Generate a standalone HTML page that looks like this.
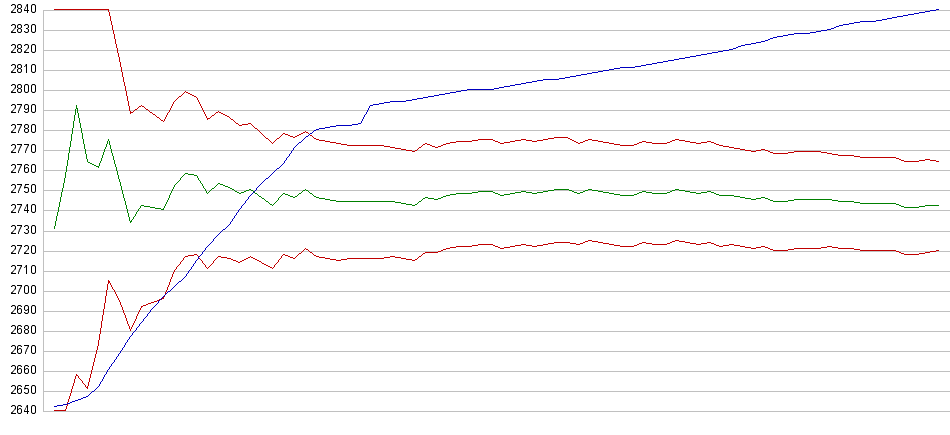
<!DOCTYPE html>
<html><head><meta charset="utf-8"><title>chart</title>
<style>
html,body{margin:0;padding:0;background:#fff;}
body{width:950px;height:435px;overflow:hidden;font-family:"Liberation Sans",sans-serif;}
svg{display:block;}
text{font-family:"Liberation Sans",sans-serif;font-size:12px;fill:transparent;}
</style></head><body>
<svg width="950" height="435" viewBox="0 0 950 435" shape-rendering="crispEdges">
<path fill="#c0c0c0" d="M43 10h907v1h-907zM43 30h907v1h-907zM43 50h907v1h-907zM43 70h907v1h-907zM43 90h907v1h-907zM43 110h907v1h-907zM43 130h907v1h-907zM43 150h907v1h-907zM43 170h907v1h-907zM43 190h907v1h-907zM43 210h907v1h-907zM43 231h907v1h-907zM43 251h907v1h-907zM43 271h907v1h-907zM43 291h907v1h-907zM43 311h907v1h-907zM43 331h907v1h-907zM43 351h907v1h-907zM43 371h907v1h-907zM43 391h907v1h-907zM43 411h907v1h-907z"/>
<path fill="#c0c0c0" d="M43 10h1v401h-1z"/>
<g><text x="11" y="13">2840</text><text x="11" y="33">2830</text><text x="11" y="53">2820</text><text x="11" y="73">2810</text><text x="11" y="93">2800</text><text x="11" y="113">2790</text><text x="11" y="133">2780</text><text x="11" y="153">2770</text><text x="11" y="173">2760</text><text x="11" y="193">2750</text><text x="11" y="213">2740</text><text x="11" y="234">2730</text><text x="11" y="254">2720</text><text x="11" y="274">2710</text><text x="11" y="294">2700</text><text x="11" y="314">2690</text><text x="11" y="334">2680</text><text x="11" y="354">2670</text><text x="11" y="374">2660</text><text x="11" y="394">2650</text><text x="11" y="414">2640</text></g>
<defs><g id="d0"><path fill="#e3e3e3" d="M0 0h1v1h-1zM0 8h1v1h-1zM4 0h1v1h-1zM4 8h1v1h-1z"/><path fill="#aaaaaa" d="M1 1h1v1h-1zM1 7h1v1h-1zM3 1h1v1h-1zM3 7h1v1h-1z"/><path fill="#1c1c1c" d="M0 1h1v1h-1zM0 7h1v1h-1zM1 0h1v1h-1zM1 8h1v1h-1zM3 0h1v1h-1zM3 8h1v1h-1zM4 1h1v1h-1zM4 7h1v1h-1z"/><path fill="#000000" d="M0 2h1v5h-1zM2 0h1v1h-1zM2 8h1v1h-1zM4 2h1v5h-1z"/></g><g id="d1"><path fill="#c6c6c6" d="M1 2h1v1h-1z"/><path fill="#aaaaaa" d="M1 0h1v1h-1z"/><path fill="#393939" d="M0 2h1v1h-1zM1 1h1v1h-1z"/><path fill="#000000" d="M2 0h1v9h-1z"/></g><g id="d2"><path fill="#e3e3e3" d="M0 0h1v1h-1zM4 0h1v1h-1z"/><path fill="#c6c6c6" d="M3 3h1v1h-1z"/><path fill="#aaaaaa" d="M1 1h1v1h-1zM3 1h1v1h-1zM3 5h1v1h-1z"/><path fill="#8e8e8e" d="M4 4h1v1h-1z"/><path fill="#717171" d="M1 6h2v1h-2zM2 5h1v1h-1z"/><path fill="#555555" d="M3 4h1v1h-1z"/><path fill="#393939" d="M0 7h2v1h-2z"/><path fill="#1c1c1c" d="M1 0h1v1h-1zM3 0h1v1h-1zM4 1h1v1h-1z"/><path fill="#000000" d="M0 1h1v1h-1zM0 8h5v1h-5zM2 0h1v1h-1zM4 2h1v1h-1zM4 3h1v1h-1z"/></g><g id="d3"><path fill="#e3e3e3" d="M0 0h1v1h-1zM0 8h1v1h-1zM4 0h1v1h-1zM4 8h1v1h-1z"/><path fill="#aaaaaa" d="M1 1h1v1h-1zM1 7h1v1h-1zM3 1h1v1h-1zM3 3h1v1h-1zM3 5h1v1h-1zM3 7h1v1h-1z"/><path fill="#1c1c1c" d="M1 0h1v1h-1zM1 8h1v1h-1zM3 0h1v1h-1zM3 4h1v1h-1zM3 8h1v1h-1zM4 1h1v1h-1zM4 3h1v1h-1zM4 5h1v1h-1zM4 7h1v1h-1z"/><path fill="#000000" d="M0 1h1v1h-1zM0 7h1v1h-1zM2 0h1v1h-1zM2 4h1v1h-1zM2 8h1v1h-1zM4 2h1v1h-1zM4 6h1v1h-1z"/></g><g id="d4"><path fill="#c6c6c6" d="M0 4h1v1h-1zM1 2h1v1h-1z"/><path fill="#aaaaaa" d="M2 0h1v1h-1z"/><path fill="#8e8e8e" d="M2 2h1v1h-1z"/><path fill="#717171" d="M1 4h1v1h-1z"/><path fill="#555555" d="M1 3h1v1h-1z"/><path fill="#393939" d="M0 5h1v1h-1zM2 1h1v1h-1z"/><path fill="#000000" d="M0 6h3v1h-3zM3 0h1v9h-1zM4 6h1v1h-1z"/></g><g id="d5"><path fill="#e3e3e3" d="M0 8h1v1h-1zM1 4h1v1h-1zM4 8h1v1h-1z"/><path fill="#c6c6c6" d="M0 1h1v1h-1zM4 3h1v1h-1z"/><path fill="#aaaaaa" d="M1 2h1v1h-1zM1 7h1v1h-1zM3 4h1v1h-1zM3 7h1v1h-1z"/><path fill="#8e8e8e" d="M0 4h1v1h-1z"/><path fill="#555555" d="M0 2h1v1h-1z"/><path fill="#393939" d="M1 1h1v1h-1z"/><path fill="#1c1c1c" d="M1 8h1v1h-1zM3 3h1v1h-1zM3 8h1v1h-1zM4 4h1v1h-1zM4 7h1v1h-1z"/><path fill="#000000" d="M0 3h3v1h-3zM0 7h1v1h-1zM1 0h4v1h-4zM2 8h1v1h-1zM4 5h1v1h-1zM4 6h1v1h-1z"/></g><g id="d6"><path fill="#e3e3e3" d="M0 0h1v1h-1zM0 8h1v1h-1zM2 4h1v1h-1zM4 0h1v1h-1zM4 3h1v1h-1zM4 8h1v1h-1z"/><path fill="#c6c6c6" d="M1 3h1v1h-1zM3 4h1v1h-1z"/><path fill="#aaaaaa" d="M1 1h1v1h-1zM1 7h1v1h-1zM3 1h1v1h-1zM3 7h1v1h-1z"/><path fill="#393939" d="M1 4h1v1h-1z"/><path fill="#1c1c1c" d="M0 1h1v1h-1zM0 7h1v1h-1zM1 0h1v1h-1zM1 8h1v1h-1zM2 3h2v1h-2zM3 0h1v1h-1zM3 8h1v1h-1zM4 4h1v1h-1zM4 7h1v1h-1z"/><path fill="#000000" d="M0 2h1v5h-1zM2 0h1v1h-1zM2 8h1v1h-1zM4 1h1v1h-1zM4 5h1v1h-1zM4 6h1v1h-1z"/></g><g id="d7"><path fill="#c6c6c6" d="M1 5h1v1h-1zM3 4h1v1h-1zM4 2h1v1h-1z"/><path fill="#aaaaaa" d="M2 3h1v1h-1zM3 1h1v1h-1z"/><path fill="#717171" d="M1 6h2v1h-2z"/><path fill="#393939" d="M2 4h1v1h-1zM2 5h1v1h-1zM3 2h1v1h-1zM3 3h1v1h-1z"/><path fill="#1c1c1c" d="M1 7h1v1h-1zM1 8h1v1h-1zM4 1h1v1h-1z"/><path fill="#000000" d="M0 0h5v1h-5z"/></g><g id="d8"><path fill="#e3e3e3" d="M0 0h1v1h-1zM0 8h1v1h-1zM4 0h1v1h-1zM4 8h1v1h-1z"/><path fill="#aaaaaa" d="M1 1h1v1h-1zM1 3h1v1h-1zM1 5h1v1h-1zM1 7h1v1h-1zM3 1h1v1h-1zM3 3h1v1h-1zM3 5h1v1h-1zM3 7h1v1h-1z"/><path fill="#1c1c1c" d="M0 1h1v1h-1zM0 3h1v1h-1zM0 5h1v1h-1zM0 7h1v1h-1zM1 0h1v1h-1zM1 4h1v1h-1zM1 8h1v1h-1zM3 0h1v1h-1zM3 4h1v1h-1zM3 8h1v1h-1zM4 1h1v1h-1zM4 3h1v1h-1zM4 5h1v1h-1zM4 7h1v1h-1z"/><path fill="#000000" d="M0 2h1v1h-1zM0 6h1v1h-1zM2 0h1v1h-1zM2 4h1v1h-1zM2 8h1v1h-1zM4 2h1v1h-1zM4 6h1v1h-1z"/></g><g id="d9"><path fill="#e3e3e3" d="M0 0h1v1h-1zM0 5h1v1h-1zM0 8h1v1h-1zM2 4h1v1h-1zM4 0h1v1h-1zM4 8h1v1h-1z"/><path fill="#c6c6c6" d="M1 4h1v1h-1zM3 5h1v1h-1z"/><path fill="#aaaaaa" d="M1 1h1v1h-1zM1 7h1v1h-1zM3 1h1v1h-1zM3 7h1v1h-1z"/><path fill="#393939" d="M3 4h1v1h-1z"/><path fill="#1c1c1c" d="M0 1h1v1h-1zM0 4h1v1h-1zM1 0h1v1h-1zM1 5h2v1h-2zM1 8h1v1h-1zM3 0h1v1h-1zM3 8h1v1h-1zM4 1h1v1h-1zM4 7h1v1h-1z"/><path fill="#000000" d="M0 2h1v1h-1zM0 3h1v1h-1zM0 7h1v1h-1zM2 0h1v1h-1zM2 8h1v1h-1zM4 2h1v5h-1z"/></g></defs>
<g><use href="#d2" x="11" y="4"/><use href="#d8" x="17" y="4"/><use href="#d4" x="24" y="4"/><use href="#d0" x="31" y="4"/><use href="#d2" x="11" y="24"/><use href="#d8" x="17" y="24"/><use href="#d3" x="24" y="24"/><use href="#d0" x="31" y="24"/><use href="#d2" x="11" y="44"/><use href="#d8" x="17" y="44"/><use href="#d2" x="24" y="44"/><use href="#d0" x="31" y="44"/><use href="#d2" x="11" y="64"/><use href="#d8" x="17" y="64"/><use href="#d1" x="24" y="64"/><use href="#d0" x="31" y="64"/><use href="#d2" x="11" y="84"/><use href="#d8" x="17" y="84"/><use href="#d0" x="24" y="84"/><use href="#d0" x="31" y="84"/><use href="#d2" x="11" y="104"/><use href="#d7" x="17" y="104"/><use href="#d9" x="24" y="104"/><use href="#d0" x="31" y="104"/><use href="#d2" x="11" y="124"/><use href="#d7" x="17" y="124"/><use href="#d8" x="24" y="124"/><use href="#d0" x="31" y="124"/><use href="#d2" x="11" y="144"/><use href="#d7" x="17" y="144"/><use href="#d7" x="24" y="144"/><use href="#d0" x="31" y="144"/><use href="#d2" x="11" y="164"/><use href="#d7" x="17" y="164"/><use href="#d6" x="24" y="164"/><use href="#d0" x="31" y="164"/><use href="#d2" x="11" y="184"/><use href="#d7" x="17" y="184"/><use href="#d5" x="24" y="184"/><use href="#d0" x="31" y="184"/><use href="#d2" x="11" y="204"/><use href="#d7" x="17" y="204"/><use href="#d4" x="24" y="204"/><use href="#d0" x="31" y="204"/><use href="#d2" x="11" y="225"/><use href="#d7" x="17" y="225"/><use href="#d3" x="24" y="225"/><use href="#d0" x="31" y="225"/><use href="#d2" x="11" y="245"/><use href="#d7" x="17" y="245"/><use href="#d2" x="24" y="245"/><use href="#d0" x="31" y="245"/><use href="#d2" x="11" y="265"/><use href="#d7" x="17" y="265"/><use href="#d1" x="24" y="265"/><use href="#d0" x="31" y="265"/><use href="#d2" x="11" y="285"/><use href="#d7" x="17" y="285"/><use href="#d0" x="24" y="285"/><use href="#d0" x="31" y="285"/><use href="#d2" x="11" y="305"/><use href="#d6" x="17" y="305"/><use href="#d9" x="24" y="305"/><use href="#d0" x="31" y="305"/><use href="#d2" x="11" y="325"/><use href="#d6" x="17" y="325"/><use href="#d8" x="24" y="325"/><use href="#d0" x="31" y="325"/><use href="#d2" x="11" y="345"/><use href="#d6" x="17" y="345"/><use href="#d7" x="24" y="345"/><use href="#d0" x="31" y="345"/><use href="#d2" x="11" y="365"/><use href="#d6" x="17" y="365"/><use href="#d6" x="24" y="365"/><use href="#d0" x="31" y="365"/><use href="#d2" x="11" y="385"/><use href="#d6" x="17" y="385"/><use href="#d5" x="24" y="385"/><use href="#d0" x="31" y="385"/><use href="#d2" x="11" y="405"/><use href="#d6" x="17" y="405"/><use href="#d4" x="24" y="405"/><use href="#d0" x="31" y="405"/></g>
<path fill="#c00000" d="M54 9h54v1h-54zM108 9h1v3h-1zM109 12h1v4h-1zM110 16h1v5h-1zM111 21h1v4h-1zM112 25h1v5h-1zM113 30h1v4h-1zM114 34h1v5h-1zM115 39h1v5h-1zM116 44h1v4h-1zM117 48h1v5h-1zM118 53h1v4h-1zM119 57h1v5h-1zM120 62h1v5h-1zM121 67h1v5h-1zM122 72h1v5h-1zM123 77h1v5h-1zM124 82h1v4h-1zM125 86h1v5h-1zM126 91h1v5h-1zM127 96h1v5h-1zM128 101h1v5h-1zM129 106h1v5h-1zM130 111h1v3h-1zM131 112h2v1h-2zM133 111h1v1h-1zM134 110h1v1h-1zM135 109h2v1h-2zM137 108h1v1h-1zM138 107h1v1h-1zM139 106h2v1h-2zM141 105h1v1h-1zM142 106h2v1h-2zM144 107h1v1h-1zM145 108h1v1h-1zM146 109h2v1h-2zM148 110h1v1h-1zM149 111h1v1h-1zM150 112h2v1h-2zM152 113h1v1h-1zM153 114h2v1h-2zM155 115h1v1h-1zM156 116h1v1h-1zM157 117h2v1h-2zM159 118h1v1h-1zM160 119h1v1h-1zM161 120h2v1h-2zM163 121h1v1h-1zM164 119h1v1h-1zM164 120h1v1h-1zM165 117h1v1h-1zM165 118h1v1h-1zM166 115h1v1h-1zM166 116h1v1h-1zM167 113h1v1h-1zM167 114h1v1h-1zM168 112h1v1h-1zM169 110h1v1h-1zM169 111h1v1h-1zM170 108h1v1h-1zM170 109h1v1h-1zM171 106h1v1h-1zM171 107h1v1h-1zM172 104h1v1h-1zM172 105h1v1h-1zM173 102h1v1h-1zM173 103h1v1h-1zM174 101h1v1h-1zM175 100h1v1h-1zM176 99h1v1h-1zM177 98h1v1h-1zM178 97h1v1h-1zM179 96h2v1h-2zM181 95h1v1h-1zM182 94h1v1h-1zM183 93h1v1h-1zM184 92h1v1h-1zM185 91h1v1h-1zM186 92h2v1h-2zM188 93h2v1h-2zM190 94h2v1h-2zM192 95h2v1h-2zM194 96h2v1h-2zM196 97h1v1h-1zM197 98h1v1h-1zM197 99h1v1h-1zM198 100h1v1h-1zM198 101h1v1h-1zM199 102h1v1h-1zM199 103h1v1h-1zM200 104h1v1h-1zM200 105h1v1h-1zM201 106h1v1h-1zM201 107h1v1h-1zM202 108h1v1h-1zM202 109h1v1h-1zM203 110h1v1h-1zM203 111h1v1h-1zM204 112h1v1h-1zM204 113h1v1h-1zM205 114h1v1h-1zM205 115h1v1h-1zM206 116h1v1h-1zM206 117h1v1h-1zM207 118h3v1h-3zM207 119h1v1h-1zM210 117h1v1h-1zM211 116h1v1h-1zM212 115h2v1h-2zM214 114h1v1h-1zM215 113h1v1h-1zM216 112h2v1h-2zM218 111h1v1h-1zM219 112h2v1h-2zM221 113h2v1h-2zM223 114h2v1h-2zM225 115h2v1h-2zM227 116h2v1h-2zM229 117h1v1h-1zM230 118h1v1h-1zM231 119h2v1h-2zM233 120h1v1h-1zM234 121h1v1h-1zM235 122h1v1h-1zM236 123h2v1h-2zM238 124h1v1h-1zM239 125h3v1h-3zM242 124h6v1h-6zM248 123h3v1h-3zM251 124h1v1h-1zM252 125h1v1h-1zM253 126h1v1h-1zM254 127h1v1h-1zM255 128h2v1h-2zM257 129h1v1h-1zM258 130h1v1h-1zM259 131h1v1h-1zM260 132h1v1h-1zM261 133h1v1h-1zM262 134h1v1h-1zM263 135h1v1h-1zM264 136h1v1h-1zM265 137h1v1h-1zM266 138h2v1h-2zM268 139h1v1h-1zM269 140h1v1h-1zM270 141h1v1h-1zM271 142h1v1h-1zM272 143h1v1h-1zM273 142h1v1h-1zM274 141h1v1h-1zM275 140h1v1h-1zM276 139h1v1h-1zM277 138h2v1h-2zM279 137h1v1h-1zM280 136h1v1h-1zM281 135h1v1h-1zM282 134h1v1h-1zM283 133h2v1h-2zM285 134h3v1h-3zM288 135h2v1h-2zM290 136h3v1h-3zM293 137h2v1h-2zM295 136h2v1h-2zM297 135h2v1h-2zM299 134h2v1h-2zM301 133h2v1h-2zM303 132h2v1h-2zM305 131h1v1h-1zM306 132h2v1h-2zM308 133h1v1h-1zM309 134h1v1h-1zM310 135h2v1h-2zM312 136h1v1h-1zM313 137h1v1h-1zM314 138h2v1h-2zM316 139h3v1h-3zM319 140h6v1h-6zM325 141h5v1h-5zM330 142h6v1h-6zM336 143h5v1h-5zM341 144h6v1h-6zM347 145h37v1h-37zM384 146h6v1h-6zM390 147h5v1h-5zM395 148h6v1h-6zM401 149h5v1h-5zM406 150h6v1h-6zM412 151h3v1h-3zM415 150h2v1h-2zM417 149h1v1h-1zM418 148h1v1h-1zM419 147h2v1h-2zM421 146h1v1h-1zM422 145h1v1h-1zM423 144h2v1h-2zM425 143h2v1h-2zM427 144h3v1h-3zM430 145h2v1h-2zM432 146h3v1h-3zM435 147h3v1h-3zM438 146h3v1h-3zM441 145h2v1h-2zM443 144h3v1h-3zM446 143h4v1h-4zM450 142h6v1h-6zM456 141h16v1h-16zM472 140h6v1h-6zM478 139h15v1h-15zM493 140h2v1h-2zM495 141h3v1h-3zM498 142h2v1h-2zM500 143h4v1h-4zM504 142h6v1h-6zM510 141h5v1h-5zM515 140h6v1h-6zM521 139h5v1h-5zM526 140h6v1h-6zM532 141h5v1h-5zM537 140h6v1h-6zM543 139h5v1h-5zM548 138h6v1h-6zM554 137h14v1h-14zM568 138h2v1h-2zM570 139h2v1h-2zM572 140h2v1h-2zM574 141h2v1h-2zM576 142h2v1h-2zM578 143h2v1h-2zM580 142h3v1h-3zM583 141h2v1h-2zM585 140h3v1h-3zM588 139h4v1h-4zM592 140h6v1h-6zM598 141h5v1h-5zM603 142h6v1h-6zM609 143h5v1h-5zM614 144h6v1h-6zM620 145h14v1h-14zM634 144h3v1h-3zM637 143h2v1h-2zM639 142h3v1h-3zM642 141h4v1h-4zM646 142h6v1h-6zM652 143h15v1h-15zM667 142h3v1h-3zM670 141h2v1h-2zM672 140h3v1h-3zM675 139h4v1h-4zM679 140h6v1h-6zM685 141h5v1h-5zM690 142h6v1h-6zM696 143h5v1h-5zM701 142h6v1h-6zM707 141h4v1h-4zM711 142h3v1h-3zM714 143h2v1h-2zM716 144h3v1h-3zM719 145h4v1h-4zM723 146h6v1h-6zM729 147h5v1h-5zM734 148h6v1h-6zM740 149h5v1h-5zM745 150h6v1h-6zM751 151h5v1h-5zM756 150h5v1h-5zM761 149h4v1h-4zM765 150h3v1h-3zM768 151h2v1h-2zM770 152h3v1h-3zM773 153h15v1h-15zM788 152h6v1h-6zM794 151h27v1h-27zM821 152h6v1h-6zM827 153h5v1h-5zM832 154h6v1h-6zM838 155h16v1h-16zM854 156h6v1h-6zM860 157h36v1h-36zM896 158h3v1h-3zM899 159h2v1h-2zM901 160h3v1h-3zM904 161h15v1h-15zM919 160h6v1h-6zM925 159h5v1h-5zM930 160h6v1h-6zM936 161h3v1h-3z"/>
<path fill="#c00000" d="M54 410h12v1h-12zM65 409h1v1h-1zM66 406h1v3h-1zM67 402h1v4h-1zM68 399h1v3h-1zM69 396h1v3h-1zM70 393h1v3h-1zM71 389h1v4h-1zM72 386h1v3h-1zM73 383h1v3h-1zM74 379h1v4h-1zM75 376h1v3h-1zM76 374h1v1h-1zM76 375h2v1h-2zM78 376h1v1h-1zM78 377h1v1h-1zM79 378h1v1h-1zM80 379h1v1h-1zM81 380h1v1h-1zM82 381h1v1h-1zM82 382h1v1h-1zM83 383h1v1h-1zM84 384h1v1h-1zM85 385h1v1h-1zM85 386h1v1h-1zM86 387h1v1h-1zM87 386h1v3h-1zM88 382h1v4h-1zM89 378h1v4h-1zM90 374h1v4h-1zM91 370h1v4h-1zM92 366h1v4h-1zM93 362h1v4h-1zM94 358h1v4h-1zM95 354h1v4h-1zM96 350h1v4h-1zM97 346h1v4h-1zM98 340h1v6h-1zM99 334h1v6h-1zM100 328h1v6h-1zM101 321h1v7h-1zM102 315h1v6h-1zM103 309h1v6h-1zM104 303h1v6h-1zM105 296h1v7h-1zM106 290h1v6h-1zM107 284h1v6h-1zM108 280h1v4h-1zM109 281h1v1h-1zM109 282h1v1h-1zM110 283h1v1h-1zM110 284h1v1h-1zM111 285h1v1h-1zM111 286h1v1h-1zM112 287h1v1h-1zM112 288h1v1h-1zM113 289h1v1h-1zM114 290h1v1h-1zM114 291h1v1h-1zM115 292h1v1h-1zM115 293h1v1h-1zM116 294h1v1h-1zM116 295h1v1h-1zM117 296h1v1h-1zM117 297h1v1h-1zM118 298h1v1h-1zM118 299h1v1h-1zM119 300h1v1h-1zM119 301h1v1h-1zM120 302h1v3h-1zM121 305h1v1h-1zM121 306h1v1h-1zM122 307h1v3h-1zM123 310h1v3h-1zM124 313h1v1h-1zM124 314h1v1h-1zM125 315h1v3h-1zM126 318h1v3h-1zM127 321h1v3h-1zM128 324h1v1h-1zM128 325h1v1h-1zM129 326h1v3h-1zM130 329h1v1h-1zM130 330h1v1h-1zM131 327h1v1h-1zM131 328h1v1h-1zM132 325h1v1h-1zM132 326h1v1h-1zM133 323h1v1h-1zM133 324h1v1h-1zM134 321h1v1h-1zM134 322h1v1h-1zM135 319h1v1h-1zM135 320h1v1h-1zM136 316h1v3h-1zM137 314h1v1h-1zM137 315h1v1h-1zM138 312h1v1h-1zM138 313h1v1h-1zM139 310h1v1h-1zM139 311h1v1h-1zM140 308h1v1h-1zM140 309h1v1h-1zM141 306h2v1h-2zM141 307h1v1h-1zM143 305h3v1h-3zM146 304h2v1h-2zM148 303h3v1h-3zM151 302h3v1h-3zM154 301h3v1h-3zM157 300h2v1h-2zM159 299h3v1h-3zM162 298h2v1h-2zM163 297h1v1h-1zM164 295h1v1h-1zM164 296h1v1h-1zM165 292h1v3h-1zM166 290h1v1h-1zM166 291h1v1h-1zM167 287h1v3h-1zM168 285h1v1h-1zM168 286h1v1h-1zM169 282h1v3h-1zM170 279h1v3h-1zM171 277h1v1h-1zM171 278h1v1h-1zM172 274h1v3h-1zM173 272h1v1h-1zM173 273h1v1h-1zM174 270h1v1h-1zM174 271h1v1h-1zM175 269h1v1h-1zM176 267h1v1h-1zM176 268h1v1h-1zM177 266h1v1h-1zM178 265h1v1h-1zM179 264h1v1h-1zM180 262h1v1h-1zM180 263h1v1h-1zM181 261h1v1h-1zM182 260h1v1h-1zM183 258h1v1h-1zM183 259h1v1h-1zM184 257h1v1h-1zM185 256h3v1h-3zM188 255h6v1h-6zM194 254h3v1h-3zM197 255h1v1h-1zM198 256h1v1h-1zM198 257h1v1h-1zM199 258h1v1h-1zM200 259h1v1h-1zM201 260h1v1h-1zM202 261h1v1h-1zM202 262h1v1h-1zM203 263h1v1h-1zM204 264h1v1h-1zM205 265h1v1h-1zM205 266h1v1h-1zM206 267h1v1h-1zM207 268h1v1h-1zM208 267h1v1h-1zM209 266h1v1h-1zM210 265h1v1h-1zM211 264h1v1h-1zM212 263h1v1h-1zM213 261h1v1h-1zM213 262h1v1h-1zM214 260h1v1h-1zM215 259h1v1h-1zM216 258h1v1h-1zM217 257h1v1h-1zM218 256h3v1h-3zM221 257h6v1h-6zM227 258h4v1h-4zM231 259h2v1h-2zM233 260h3v1h-3zM236 261h2v1h-2zM238 262h2v1h-2zM240 261h2v1h-2zM242 260h2v1h-2zM244 259h2v1h-2zM246 258h2v1h-2zM248 257h2v1h-2zM250 256h1v1h-1zM251 257h2v1h-2zM253 258h2v1h-2zM255 259h2v1h-2zM257 260h2v1h-2zM259 261h2v1h-2zM261 262h1v1h-1zM262 263h2v1h-2zM264 264h2v1h-2zM266 265h2v1h-2zM268 266h2v1h-2zM270 267h2v1h-2zM272 268h1v1h-1zM273 267h1v1h-1zM274 265h1v1h-1zM274 266h1v1h-1zM275 264h1v1h-1zM276 263h1v1h-1zM277 262h1v1h-1zM278 260h1v1h-1zM278 261h1v1h-1zM279 259h1v1h-1zM280 258h1v1h-1zM281 256h1v1h-1zM281 257h1v1h-1zM282 255h1v1h-1zM283 254h2v1h-2zM285 255h3v1h-3zM288 256h2v1h-2zM290 257h3v1h-3zM293 258h2v1h-2zM295 257h1v1h-1zM296 256h1v1h-1zM297 255h1v1h-1zM298 254h1v1h-1zM299 253h2v1h-2zM301 252h1v1h-1zM302 251h1v1h-1zM303 250h1v1h-1zM304 249h1v1h-1zM305 248h1v1h-1zM306 249h2v1h-2zM308 250h1v1h-1zM309 251h1v1h-1zM310 252h2v1h-2zM312 253h1v1h-1zM313 254h1v1h-1zM314 255h2v1h-2zM316 256h3v1h-3zM319 257h6v1h-6zM325 258h5v1h-5zM330 259h6v1h-6zM336 260h5v1h-5zM341 259h6v1h-6zM347 258h37v1h-37zM384 257h6v1h-6zM390 256h5v1h-5zM395 257h6v1h-6zM401 258h5v1h-5zM406 259h6v1h-6zM412 260h3v1h-3zM415 259h2v1h-2zM417 258h1v1h-1zM418 257h1v1h-1zM419 256h2v1h-2zM421 255h1v1h-1zM422 254h1v1h-1zM423 253h2v1h-2zM425 252h13v1h-13zM438 251h3v1h-3zM441 250h2v1h-2zM443 249h3v1h-3zM446 248h4v1h-4zM450 247h6v1h-6zM456 246h16v1h-16zM472 245h6v1h-6zM478 244h15v1h-15zM493 245h2v1h-2zM495 246h3v1h-3zM498 247h2v1h-2zM500 248h4v1h-4zM504 247h6v1h-6zM510 246h5v1h-5zM515 245h6v1h-6zM521 244h5v1h-5zM526 245h6v1h-6zM532 246h5v1h-5zM537 245h6v1h-6zM543 244h5v1h-5zM548 243h6v1h-6zM554 242h16v1h-16zM570 243h6v1h-6zM576 244h4v1h-4zM580 243h3v1h-3zM583 242h2v1h-2zM585 241h3v1h-3zM588 240h4v1h-4zM592 241h6v1h-6zM598 242h5v1h-5zM603 243h6v1h-6zM609 244h5v1h-5zM614 245h6v1h-6zM620 246h14v1h-14zM634 245h3v1h-3zM637 244h2v1h-2zM639 243h3v1h-3zM642 242h4v1h-4zM646 243h6v1h-6zM652 244h15v1h-15zM667 243h3v1h-3zM670 242h2v1h-2zM672 241h3v1h-3zM675 240h4v1h-4zM679 241h6v1h-6zM685 242h5v1h-5zM690 243h6v1h-6zM696 244h5v1h-5zM701 243h6v1h-6zM707 242h4v1h-4zM711 243h3v1h-3zM714 244h2v1h-2zM716 245h3v1h-3zM719 246h4v1h-4zM723 245h6v1h-6zM729 244h5v1h-5zM734 245h6v1h-6zM740 246h5v1h-5zM745 247h6v1h-6zM751 248h5v1h-5zM756 247h5v1h-5zM761 246h4v1h-4zM765 247h3v1h-3zM768 248h2v1h-2zM770 249h3v1h-3zM773 250h15v1h-15zM788 249h6v1h-6zM794 248h27v1h-27zM821 247h6v1h-6zM827 246h5v1h-5zM832 247h6v1h-6zM838 248h16v1h-16zM854 249h6v1h-6zM860 250h36v1h-36zM896 251h3v1h-3zM899 252h2v1h-2zM901 253h3v1h-3zM904 254h15v1h-15zM919 253h6v1h-6zM925 252h5v1h-5zM930 251h6v1h-6zM936 250h3v1h-3z"/>
<path fill="#008000" d="M54 226h1v3h-1zM55 221h1v5h-1zM56 216h1v5h-1zM57 212h1v4h-1zM58 207h1v5h-1zM59 202h1v5h-1zM60 197h1v5h-1zM61 192h1v5h-1zM62 188h1v4h-1zM63 183h1v5h-1zM64 178h1v5h-1zM65 172h1v6h-1zM66 166h1v6h-1zM67 160h1v6h-1zM68 153h1v7h-1zM69 147h1v6h-1zM70 141h1v6h-1zM71 134h1v7h-1zM72 128h1v6h-1zM73 121h1v7h-1zM74 115h1v6h-1zM75 109h1v6h-1zM76 105h1v4h-1zM77 108h1v5h-1zM78 113h1v5h-1zM79 118h1v5h-1zM80 123h1v5h-1zM81 128h1v5h-1zM82 133h1v6h-1zM83 139h1v5h-1zM84 144h1v5h-1zM85 149h1v5h-1zM86 154h1v5h-1zM87 159h1v3h-1zM88 162h2v1h-2zM90 163h2v1h-2zM92 164h2v1h-2zM94 165h2v1h-2zM96 166h3v1h-3zM98 167h1v1h-1zM99 163h1v3h-1zM100 161h1v1h-1zM100 162h1v1h-1zM101 158h1v3h-1zM102 155h1v3h-1zM103 152h1v3h-1zM104 149h1v3h-1zM105 147h1v1h-1zM105 148h1v1h-1zM106 144h1v3h-1zM107 141h1v3h-1zM108 139h1v1h-1zM108 140h1v1h-1zM109 141h1v4h-1zM110 145h1v4h-1zM111 149h1v4h-1zM112 153h1v3h-1zM113 156h1v4h-1zM114 160h1v4h-1zM115 164h1v3h-1zM116 167h1v4h-1zM117 171h1v4h-1zM118 175h1v4h-1zM119 179h1v3h-1zM120 182h1v4h-1zM121 186h1v4h-1zM122 190h1v4h-1zM123 194h1v4h-1zM124 198h1v3h-1zM125 201h1v4h-1zM126 205h1v4h-1zM127 209h1v4h-1zM128 213h1v4h-1zM129 217h1v4h-1zM130 221h2v1h-2zM130 222h1v1h-1zM131 220h1v1h-1zM132 219h1v1h-1zM133 217h1v1h-1zM133 218h1v1h-1zM134 216h1v1h-1zM135 214h1v1h-1zM135 215h1v1h-1zM136 212h1v1h-1zM136 213h1v1h-1zM137 211h1v1h-1zM138 209h1v1h-1zM138 210h1v1h-1zM139 208h1v1h-1zM140 206h1v1h-1zM140 207h1v1h-1zM141 205h3v1h-3zM144 206h6v1h-6zM150 207h5v1h-5zM155 208h6v1h-6zM161 209h3v1h-3zM163 208h1v1h-1zM164 206h1v1h-1zM164 207h1v1h-1zM165 204h1v1h-1zM165 205h1v1h-1zM166 202h1v1h-1zM166 203h1v1h-1zM167 200h1v1h-1zM167 201h1v1h-1zM168 198h1v1h-1zM168 199h1v1h-1zM169 195h1v3h-1zM170 193h1v1h-1zM170 194h1v1h-1zM171 191h1v1h-1zM171 192h1v1h-1zM172 189h1v1h-1zM172 190h1v1h-1zM173 187h1v1h-1zM173 188h1v1h-1zM174 185h1v1h-1zM174 186h1v1h-1zM175 184h1v1h-1zM176 183h1v1h-1zM177 182h1v1h-1zM178 181h1v1h-1zM179 180h1v1h-1zM180 178h1v1h-1zM180 179h1v1h-1zM181 177h1v1h-1zM182 176h1v1h-1zM183 175h1v1h-1zM184 174h1v1h-1zM185 173h3v1h-3zM188 174h6v1h-6zM194 175h3v1h-3zM197 176h1v1h-1zM197 177h1v1h-1zM198 178h1v1h-1zM198 179h1v1h-1zM199 180h1v1h-1zM200 181h1v1h-1zM200 182h1v1h-1zM201 183h1v1h-1zM202 184h1v1h-1zM202 185h1v1h-1zM203 186h1v1h-1zM203 187h1v1h-1zM204 188h1v1h-1zM205 189h1v1h-1zM205 190h1v1h-1zM206 191h1v1h-1zM206 192h1v1h-1zM207 193h1v1h-1zM208 192h1v1h-1zM209 191h1v1h-1zM210 190h1v1h-1zM211 189h1v1h-1zM212 188h2v1h-2zM214 187h1v1h-1zM215 186h1v1h-1zM216 185h1v1h-1zM217 184h1v1h-1zM218 183h2v1h-2zM220 184h3v1h-3zM223 185h2v1h-2zM225 186h3v1h-3zM228 187h2v1h-2zM230 188h2v1h-2zM232 189h2v1h-2zM234 190h1v1h-1zM235 191h2v1h-2zM237 192h2v1h-2zM239 193h2v1h-2zM241 192h3v1h-3zM244 191h2v1h-2zM246 190h3v1h-3zM249 189h2v1h-2zM251 190h2v1h-2zM253 191h1v1h-1zM254 192h1v1h-1zM255 193h2v1h-2zM257 194h1v1h-1zM258 195h1v1h-1zM259 196h2v1h-2zM261 197h1v1h-1zM262 198h2v1h-2zM264 199h1v1h-1zM265 200h1v1h-1zM266 201h2v1h-2zM268 202h1v1h-1zM269 203h1v1h-1zM270 204h2v1h-2zM272 205h1v1h-1zM273 204h1v1h-1zM274 203h1v1h-1zM275 202h1v1h-1zM276 201h1v1h-1zM277 200h1v1h-1zM278 198h1v1h-1zM278 199h1v1h-1zM279 197h1v1h-1zM280 196h1v1h-1zM281 195h1v1h-1zM282 194h1v1h-1zM283 193h2v1h-2zM285 194h3v1h-3zM288 195h2v1h-2zM290 196h3v1h-3zM293 197h2v1h-2zM295 196h2v1h-2zM297 195h1v1h-1zM298 194h1v1h-1zM299 193h2v1h-2zM301 192h1v1h-1zM302 191h1v1h-1zM303 190h2v1h-2zM305 189h1v1h-1zM306 190h2v1h-2zM308 191h1v1h-1zM309 192h1v1h-1zM310 193h2v1h-2zM312 194h1v1h-1zM313 195h1v1h-1zM314 196h2v1h-2zM316 197h3v1h-3zM319 198h6v1h-6zM325 199h5v1h-5zM330 200h6v1h-6zM336 201h59v1h-59zM395 202h6v1h-6zM401 203h5v1h-5zM406 204h6v1h-6zM412 205h3v1h-3zM415 204h2v1h-2zM417 203h1v1h-1zM418 202h1v1h-1zM419 201h2v1h-2zM421 200h1v1h-1zM422 199h1v1h-1zM423 198h2v1h-2zM425 197h3v1h-3zM428 198h6v1h-6zM434 199h4v1h-4zM438 198h3v1h-3zM441 197h2v1h-2zM443 196h3v1h-3zM446 195h4v1h-4zM450 194h6v1h-6zM456 193h16v1h-16zM472 192h6v1h-6zM478 191h15v1h-15zM493 192h2v1h-2zM495 193h3v1h-3zM498 194h2v1h-2zM500 195h4v1h-4zM504 194h6v1h-6zM510 193h5v1h-5zM515 192h6v1h-6zM521 191h5v1h-5zM526 192h6v1h-6zM532 193h5v1h-5zM537 192h6v1h-6zM543 191h5v1h-5zM548 190h6v1h-6zM554 189h15v1h-15zM569 190h3v1h-3zM572 191h2v1h-2zM574 192h3v1h-3zM577 193h3v1h-3zM580 192h3v1h-3zM583 191h2v1h-2zM585 190h3v1h-3zM588 189h4v1h-4zM592 190h6v1h-6zM598 191h5v1h-5zM603 192h6v1h-6zM609 193h5v1h-5zM614 194h6v1h-6zM620 195h14v1h-14zM634 194h3v1h-3zM637 193h2v1h-2zM639 192h3v1h-3zM642 191h4v1h-4zM646 192h6v1h-6zM652 193h15v1h-15zM667 192h3v1h-3zM670 191h2v1h-2zM672 190h3v1h-3zM675 189h4v1h-4zM679 190h6v1h-6zM685 191h5v1h-5zM690 192h6v1h-6zM696 193h5v1h-5zM701 192h6v1h-6zM707 191h4v1h-4zM711 192h3v1h-3zM714 193h2v1h-2zM716 194h3v1h-3zM719 195h15v1h-15zM734 196h6v1h-6zM740 197h5v1h-5zM745 198h6v1h-6zM751 199h5v1h-5zM756 198h5v1h-5zM761 197h4v1h-4zM765 198h3v1h-3zM768 199h2v1h-2zM770 200h3v1h-3zM773 201h15v1h-15zM788 200h6v1h-6zM794 199h38v1h-38zM832 200h6v1h-6zM838 201h16v1h-16zM854 202h6v1h-6zM860 203h36v1h-36zM896 204h3v1h-3zM899 205h2v1h-2zM901 206h3v1h-3zM904 207h15v1h-15zM919 206h6v1h-6zM925 205h14v1h-14z"/>
<path fill="#0000c0" d="M54 406h3v1h-3zM57 405h6v1h-6zM63 404h4v1h-4zM67 403h3v1h-3zM70 402h2v1h-2zM72 401h3v1h-3zM75 400h3v1h-3zM78 399h3v1h-3zM81 398h2v1h-2zM83 397h3v1h-3zM86 396h2v1h-2zM88 395h1v1h-1zM89 394h1v1h-1zM90 393h1v1h-1zM91 392h1v1h-1zM92 391h2v1h-2zM94 390h1v1h-1zM95 389h1v1h-1zM96 388h1v1h-1zM97 387h1v1h-1zM98 386h1v1h-1zM99 384h1v1h-1zM99 385h1v1h-1zM100 382h1v1h-1zM100 383h1v1h-1zM101 381h1v1h-1zM102 379h1v1h-1zM102 380h1v1h-1zM103 377h1v1h-1zM103 378h1v1h-1zM104 375h1v1h-1zM104 376h1v1h-1zM105 374h1v1h-1zM106 372h1v1h-1zM106 373h1v1h-1zM107 370h1v1h-1zM107 371h1v1h-1zM108 369h1v1h-1zM109 367h1v1h-1zM109 368h1v1h-1zM110 366h1v1h-1zM111 364h1v1h-1zM111 365h1v1h-1zM112 363h1v1h-1zM113 362h1v1h-1zM114 360h1v1h-1zM114 361h1v1h-1zM115 359h1v1h-1zM116 357h1v1h-1zM116 358h1v1h-1zM117 356h1v1h-1zM118 354h1v1h-1zM118 355h1v1h-1zM119 353h1v1h-1zM120 351h1v1h-1zM120 352h1v1h-1zM121 350h1v1h-1zM122 348h1v1h-1zM122 349h1v1h-1zM123 347h1v1h-1zM124 345h1v1h-1zM124 346h1v1h-1zM125 343h1v1h-1zM125 344h1v1h-1zM126 342h1v1h-1zM127 340h1v1h-1zM127 341h1v1h-1zM128 339h1v1h-1zM129 337h1v1h-1zM129 338h1v1h-1zM130 336h1v1h-1zM131 335h1v1h-1zM132 333h1v1h-1zM132 334h1v1h-1zM133 332h1v1h-1zM134 331h1v1h-1zM135 330h1v1h-1zM136 328h1v1h-1zM136 329h1v1h-1zM137 327h1v1h-1zM138 326h1v1h-1zM139 324h1v1h-1zM139 325h1v1h-1zM140 323h1v1h-1zM141 322h1v1h-1zM142 321h1v1h-1zM143 319h1v1h-1zM143 320h1v1h-1zM144 318h1v1h-1zM145 317h1v1h-1zM146 316h1v1h-1zM147 314h1v1h-1zM147 315h1v1h-1zM148 313h1v1h-1zM149 312h1v1h-1zM150 310h1v1h-1zM150 311h1v1h-1zM151 309h1v1h-1zM152 308h1v1h-1zM153 307h1v1h-1zM154 306h1v1h-1zM155 305h1v1h-1zM156 304h1v1h-1zM157 303h1v1h-1zM158 301h1v1h-1zM158 302h1v1h-1zM159 300h1v1h-1zM160 299h1v1h-1zM161 298h1v1h-1zM162 297h1v1h-1zM163 296h1v1h-1zM164 295h1v1h-1zM165 294h1v1h-1zM166 293h1v1h-1zM167 292h1v1h-1zM168 291h2v1h-2zM170 290h1v1h-1zM171 289h1v1h-1zM172 288h1v1h-1zM173 287h1v1h-1zM174 286h1v1h-1zM175 285h1v1h-1zM176 284h1v1h-1zM177 283h1v1h-1zM178 282h1v1h-1zM179 281h2v1h-2zM181 280h1v1h-1zM182 279h1v1h-1zM183 278h1v1h-1zM184 277h1v1h-1zM185 276h1v1h-1zM186 274h1v1h-1zM186 275h1v1h-1zM187 273h1v1h-1zM188 271h1v1h-1zM188 272h1v1h-1zM189 270h1v1h-1zM190 269h1v1h-1zM191 267h1v1h-1zM191 268h1v1h-1zM192 266h1v1h-1zM193 264h1v1h-1zM193 265h1v1h-1zM194 263h1v1h-1zM195 261h1v1h-1zM195 262h1v1h-1zM196 260h1v1h-1zM197 259h1v1h-1zM198 257h1v1h-1zM198 258h1v1h-1zM199 256h1v1h-1zM200 255h1v1h-1zM201 254h1v1h-1zM202 252h1v1h-1zM202 253h1v1h-1zM203 251h1v1h-1zM204 250h1v1h-1zM205 248h1v1h-1zM205 249h1v1h-1zM206 247h1v1h-1zM207 246h1v1h-1zM208 245h1v1h-1zM209 244h1v1h-1zM210 243h1v1h-1zM211 242h1v1h-1zM212 241h1v1h-1zM213 239h1v1h-1zM213 240h1v1h-1zM214 238h1v1h-1zM215 237h1v1h-1zM216 236h1v1h-1zM217 235h1v1h-1zM218 234h1v1h-1zM219 233h1v1h-1zM220 232h1v1h-1zM221 231h1v1h-1zM222 230h1v1h-1zM223 229h2v1h-2zM225 228h1v1h-1zM226 227h1v1h-1zM227 226h1v1h-1zM228 225h1v1h-1zM229 224h1v1h-1zM230 222h1v1h-1zM230 223h1v1h-1zM231 221h1v1h-1zM232 219h1v1h-1zM232 220h1v1h-1zM233 218h1v1h-1zM234 216h1v1h-1zM234 217h1v1h-1zM235 215h1v1h-1zM236 213h1v1h-1zM236 214h1v1h-1zM237 212h1v1h-1zM238 210h1v1h-1zM238 211h1v1h-1zM239 209h1v1h-1zM240 208h1v1h-1zM241 206h1v1h-1zM241 207h1v1h-1zM242 205h1v1h-1zM243 204h1v1h-1zM244 203h1v1h-1zM245 201h1v1h-1zM245 202h1v1h-1zM246 200h1v1h-1zM247 199h1v1h-1zM248 197h1v1h-1zM248 198h1v1h-1zM249 196h1v1h-1zM250 195h1v1h-1zM251 194h1v1h-1zM252 193h1v1h-1zM253 192h1v1h-1zM254 191h1v1h-1zM255 190h1v1h-1zM256 188h1v1h-1zM256 189h1v1h-1zM257 187h1v1h-1zM258 186h1v1h-1zM259 185h1v1h-1zM260 184h1v1h-1zM261 183h1v1h-1zM262 182h1v1h-1zM263 181h1v1h-1zM264 180h1v1h-1zM265 179h1v1h-1zM266 178h2v1h-2zM268 177h1v1h-1zM269 176h1v1h-1zM270 175h1v1h-1zM271 174h1v1h-1zM272 173h1v1h-1zM273 172h1v1h-1zM274 171h1v1h-1zM275 170h1v1h-1zM276 169h1v1h-1zM277 168h2v1h-2zM279 167h1v1h-1zM280 166h1v1h-1zM281 165h1v1h-1zM282 164h1v1h-1zM283 163h1v1h-1zM284 161h1v1h-1zM284 162h1v1h-1zM285 160h1v1h-1zM286 158h1v1h-1zM286 159h1v1h-1zM287 157h1v1h-1zM288 156h1v1h-1zM289 154h1v1h-1zM289 155h1v1h-1zM290 153h1v1h-1zM291 151h1v1h-1zM291 152h1v1h-1zM292 150h1v1h-1zM293 148h1v1h-1zM293 149h1v1h-1zM294 147h1v1h-1zM295 146h1v1h-1zM296 145h1v1h-1zM297 144h1v1h-1zM298 143h1v1h-1zM299 142h2v1h-2zM301 141h1v1h-1zM302 140h1v1h-1zM303 139h1v1h-1zM304 138h1v1h-1zM305 137h1v1h-1zM306 136h2v1h-2zM308 135h1v1h-1zM309 134h1v1h-1zM310 133h2v1h-2zM312 132h1v1h-1zM313 131h1v1h-1zM314 130h2v1h-2zM316 129h3v1h-3zM319 128h6v1h-6zM325 127h5v1h-5zM330 126h6v1h-6zM336 125h16v1h-16zM352 124h6v1h-6zM358 123h3v1h-3zM361 121h1v1h-1zM361 122h1v1h-1zM362 119h1v1h-1zM362 120h1v1h-1zM363 117h1v1h-1zM363 118h1v1h-1zM364 115h1v1h-1zM364 116h1v1h-1zM365 114h1v1h-1zM366 112h1v1h-1zM366 113h1v1h-1zM367 110h1v1h-1zM367 111h1v1h-1zM368 108h1v1h-1zM368 109h1v1h-1zM369 106h1v1h-1zM369 107h1v1h-1zM370 105h3v1h-3zM373 104h6v1h-6zM379 103h5v1h-5zM384 102h6v1h-6zM390 101h16v1h-16zM406 100h6v1h-6zM412 99h5v1h-5zM417 98h6v1h-6zM423 97h5v1h-5zM428 96h6v1h-6zM434 95h5v1h-5zM439 94h6v1h-6zM445 93h5v1h-5zM450 92h6v1h-6zM456 91h5v1h-5zM461 90h6v1h-6zM467 89h27v1h-27zM494 88h5v1h-5zM499 87h5v1h-5zM504 86h6v1h-6zM510 85h5v1h-5zM515 84h6v1h-6zM521 83h5v1h-5zM526 82h6v1h-6zM532 81h5v1h-5zM537 80h6v1h-6zM543 79h16v1h-16zM559 78h6v1h-6zM565 77h5v1h-5zM570 76h6v1h-6zM576 75h5v1h-5zM581 74h6v1h-6zM587 73h5v1h-5zM592 72h6v1h-6zM598 71h5v1h-5zM603 70h6v1h-6zM609 69h5v1h-5zM614 68h6v1h-6zM620 67h15v1h-15zM635 66h6v1h-6zM641 65h5v1h-5zM646 64h6v1h-6zM652 63h5v1h-5zM657 62h6v1h-6zM663 61h5v1h-5zM668 60h6v1h-6zM674 59h5v1h-5zM679 58h6v1h-6zM685 57h5v1h-5zM690 56h6v1h-6zM696 55h5v1h-5zM701 54h6v1h-6zM707 53h5v1h-5zM712 52h6v1h-6zM718 51h5v1h-5zM723 50h6v1h-6zM729 49h4v1h-4zM733 48h3v1h-3zM736 47h2v1h-2zM738 46h3v1h-3zM741 45h4v1h-4zM745 44h6v1h-6zM751 43h5v1h-5zM756 42h5v1h-5zM761 41h4v1h-4zM765 40h3v1h-3zM768 39h2v1h-2zM770 38h3v1h-3zM773 37h4v1h-4zM777 36h6v1h-6zM783 35h5v1h-5zM788 34h6v1h-6zM794 33h16v1h-16zM810 32h6v1h-6zM816 31h5v1h-5zM821 30h6v1h-6zM827 29h4v1h-4zM831 28h3v1h-3zM834 27h2v1h-2zM836 26h3v1h-3zM839 25h4v1h-4zM843 24h6v1h-6zM849 23h5v1h-5zM854 22h6v1h-6zM860 21h16v1h-16zM876 20h6v1h-6zM882 19h5v1h-5zM887 18h5v1h-5zM892 17h5v1h-5zM897 16h6v1h-6zM903 15h5v1h-5zM908 14h6v1h-6zM914 13h5v1h-5zM919 12h6v1h-6zM925 11h5v1h-5zM930 10h6v1h-6zM936 9h3v1h-3z"/>
</svg>
</body></html>
